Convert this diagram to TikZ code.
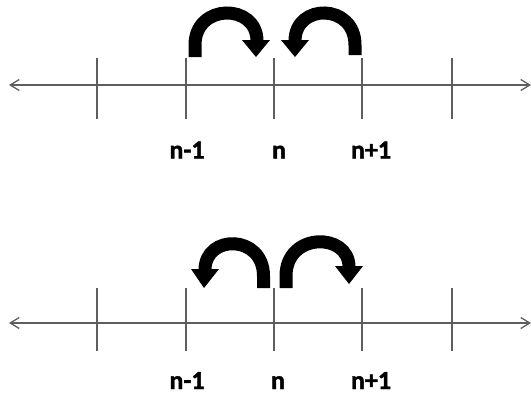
\documentclass[tikz,border=0pt]{standalone}
\usepackage{fontspec}
\setmainfont{Carlito}[BoldFeatures={FakeBold=1.5}]
\usetikzlibrary{arrows.meta}
\definecolor{linegray}{HTML}{5E5E5E}
\tikzset{
  numline/.style={draw=linegray, line width=1.3pt, {Straight Barb[length=9pt,width=11pt,line width=1.3pt]}-{Straight Barb[length=9pt,width=11pt,line width=1.3pt]}},
  tickline/.style={draw=linegray, line width=1.1pt},
  jumpbody/.style={draw=black, line width=13pt},
  jumphead/.style={fill=black},
  lbl/.style={font=\fontsize{26}{26}\selectfont\bfseries, inner sep=0pt, anchor=base}
}
\begin{document}
\begin{tikzpicture}[x=1pt,y=-1pt]
\useasboundingbox (0,0) rectangle (531,394);
% ---- top number line ----
\coordinate (tl) at (9,85);
\coordinate (tr) at (531,85);
\draw[numline] (tl) -- (tr);
\foreach \x in {97,186,274,362,452}{
  \draw[tickline] (\x,58) -- (\x,119);
}
\node[lbl] (t1) at (187,158.5) {n-1};
\node[lbl] (t2) at (279,158.5) {n};
\node[lbl] (t3) at (371,158.5) {n+1};
% top jumps
\draw[jumpbody] (195,57) -- (195,45) .. controls (195,3) and (257,3) .. (257,41);
\fill[jumphead] (242,40) -- (270,40) -- (256,57) -- cycle;
\draw[jumpbody] (355,55) -- (355,45) .. controls (355,3) and (295,3) .. (295,41);
\fill[jumphead] (281,40) -- (309,40) -- (295,57) -- cycle;
% ---- bottom number line ----
\coordinate (bl) at (9,323);
\coordinate (br) at (531,323);
\draw[numline] (bl) -- (br);
\foreach \x in {97,186,274,362,452}{
  \draw[tickline] (\x,288) -- (\x,351);
}
\node[lbl] (b1) at (187,389) {n-1};
\node[lbl] (b2) at (278,389) {n};
\node[lbl] (b3) at (371,389) {n+1};
% bottom jumps
\draw[jumpbody] (263.5,288) -- (263.5,276) .. controls (263.5,234) and (205,234) .. (205,270);
\fill[jumphead] (191,269) -- (219,269) -- (204,288) -- cycle;
\draw[jumpbody] (286,288) -- (286,276) .. controls (286,232) and (349,232) .. (349,267);
\fill[jumphead] (335,266) -- (363,266) -- (349,284) -- cycle;
\end{tikzpicture}
\end{document}
